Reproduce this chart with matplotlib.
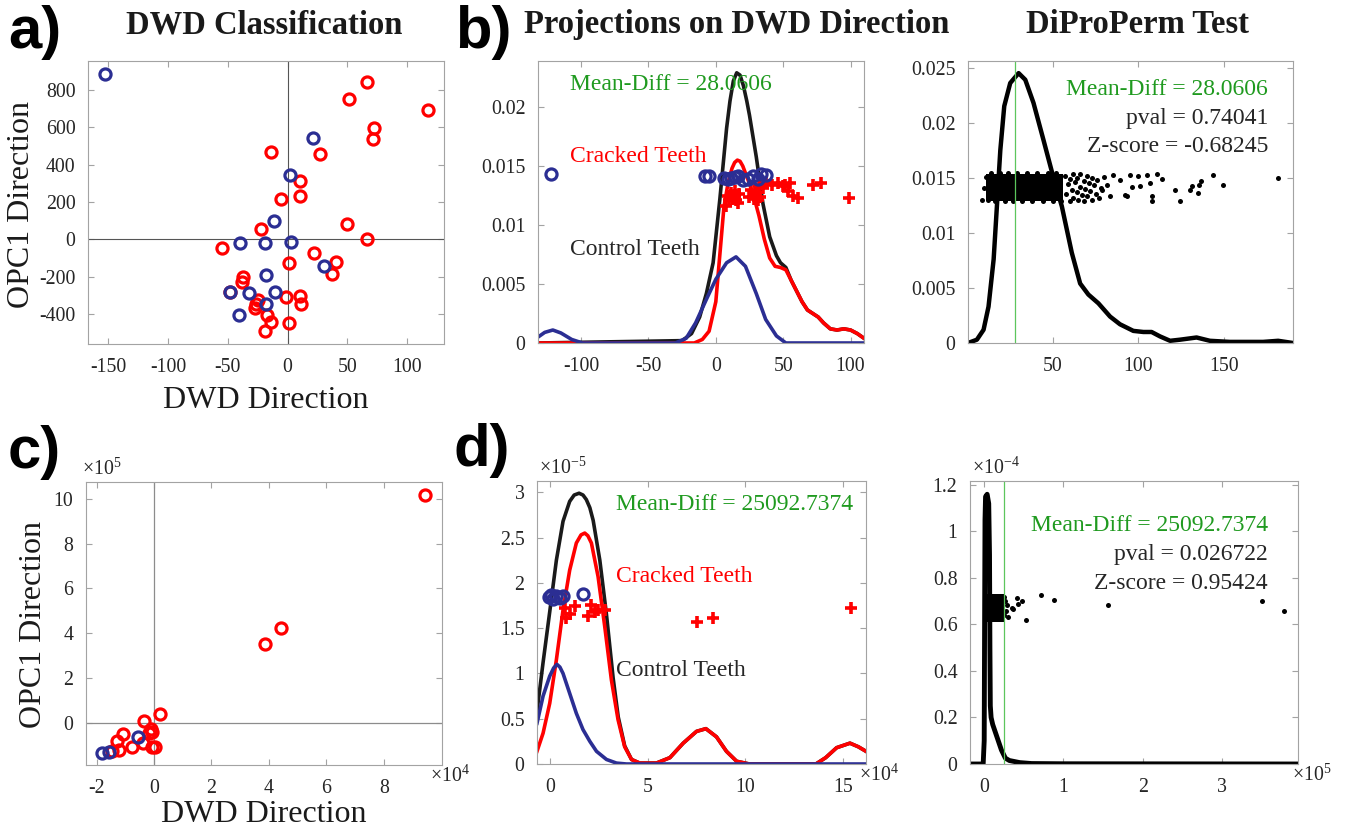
import matplotlib
matplotlib.use("Agg")
import matplotlib.pyplot as plt
from matplotlib.ticker import FuncFormatter

plt.rcParams['font.family'] = ['Liberation Serif', 'DejaVu Serif']
plt.rcParams['mathtext.fontset'] = 'custom'
plt.rcParams['mathtext.rm'] = 'Liberation Serif'
plt.rcParams['mathtext.default'] = 'regular'
plt.rcParams['axes.unicode_minus'] = False

# colours
RED = '#ff0000'
BLUE = '#2b2e93'
GREEN = '#1f9a1f'
TXT = '#262626'

# ---- a) DWD classification (raw scale)
a_ctrl_x = [-152.5, 21.4, 2.2, -11.2, -39.4, -18.5, 3.3, 30.9, -17.6, -10.4, -48.3, -32.1, -18.2, -40.7]
a_ctrl_y = [886, 541, 346, 97, -19, -21, -17, -141, -194, -282, -285, -291, -345, -405]
a_crack_x = [66.8, 51.8, 117.8, 72.1, 71.6, -13.4, 27.3, 10.3, 10.3, -5.6, -22.6, 49.8, 66.8, -55,
             22.5, 1.3, 40.4, 37.3, -37.1, -37.7, -48.3, -1.5, 10.3, 11.4, -24.6, -26.5, -27.4,
             -16.8, -14, 1.3, -18.5]
a_crack_y = [843, 754, 693, 598, 535, 466, 457, 315, 230, 215, 54, 83, 1, -49,
             -73, -128, -123, -187, -201, -228, -282, -309, -305, -346, -327, -348, -371,
             -405, -445, -448, -493]

# ---- b) projections on DWD direction
b_red_x = [-132, -16, -10, -5, 0, 3, 6, 9, 12, 14, 16, 18, 20, 24, 28, 32, 36, 40, 44, 48, 52, 56,
           60, 64, 68, 72, 76, 80, 85, 90, 95, 100, 105, 110]
b_red_y = [0, 0, 0.0003, 0.001, 0.0035, 0.0075, 0.0115, 0.0135, 0.0148, 0.0153, 0.0155, 0.0154,
           0.0150, 0.0138, 0.0125, 0.0108, 0.0088, 0.0072, 0.0065, 0.0064, 0.0062, 0.0053, 0.0044,
           0.0035, 0.0028, 0.0025, 0.0022, 0.0017, 0.0012, 0.0011, 0.0012, 0.0011, 0.0008, 0.0004]
b_blk_x = [-132, -25, -18, -12, -7, -2, 3, 8, 10.5, 13, 15.5, 18, 20.5, 23, 25, 30, 35, 40, 45, 48,
           52, 56, 60, 64, 68, 72, 76, 80, 85, 90, 95, 100, 105, 110]
b_blk_y = [0, 0.0002, 0.0008, 0.0022, 0.0042, 0.0068, 0.0122, 0.0182, 0.0205, 0.0222, 0.0229,
           0.0227, 0.0218, 0.0205, 0.0193, 0.0158, 0.0118, 0.0090, 0.0074, 0.0068, 0.0064, 0.0053,
           0.0044, 0.0035, 0.0028, 0.0025, 0.0022, 0.0017, 0.0012, 0.0011, 0.0012, 0.0011,
           0.0008, 0.0004]
b_blue_x = [-132, -127, -121, -115, -107, -99, -30, -22, -15, -7, 0, 8, 15, 22, 30, 37, 45, 52, 110]
b_blue_y = [0.0005, 0.0009, 0.0011, 0.00085, 0.0003, 0, 0, 0.0004, 0.0017, 0.0037, 0.0054,
            0.0068, 0.0073, 0.0065, 0.0042, 0.002, 0.0006, 0, 0]
b_ctrl_x = [-122, -8.4, -4.7, 6.4, 9, 11.4, 14, 16.3, 20, 23.8, 27.5, 31, 33.7, 37.4]
b_ctrl_y = [0.01435, 0.01412, 0.01418, 0.01398, 0.0139, 0.01398, 0.0141, 0.01412, 0.01384,
            0.0139, 0.01412, 0.0139, 0.01435, 0.01427]
b_crack_x = [7.7, 9.0, 10.1, 11.4, 12.0, 13.9, 14.5, 15.0, 16.3, 17.0, 25.0, 26.2, 28.0, 29.0,
             30.0, 31.2, 32.4, 33.0, 35.0, 37.4, 42.0, 46.0, 50.0, 51.0, 53.5, 54.7, 57.2, 60.9,
             72.0, 78.2, 98.8]
b_crack_y = [0.01158, 0.0125, 0.01215, 0.01271, 0.0122, 0.01243, 0.0129, 0.0121, 0.01186, 0.0126,
             0.0124, 0.0130, 0.0122, 0.0128, 0.01271, 0.01215, 0.01328, 0.0124, 0.0131, 0.01356,
             0.0134, 0.01356, 0.0133, 0.01342, 0.01285, 0.01356, 0.01243, 0.01229, 0.01342,
             0.01356, 0.01229]
mean_diff_b = 28.0606
pval_b = 0.74041
zscore_b = -0.68245

# ---- e) DiProPerm (raw scale)
e_curve_x = [0.4, 5.6, 9.5, 12.4, 15.4, 17.3, 19.3, 21.6, 25.1, 30, 33.9, 38.7, 44.6, 50.4, 55.3,
             61.1, 66, 70.8, 76.7, 83.5, 89.3, 97.1, 103, 107.8, 112.7, 118.6, 124.4, 134.1, 141.9,
             153.6, 173, 181.8, 190.5]
e_curve_y = [0, 0.0003, 0.0012, 0.0033, 0.0076, 0.0124, 0.0175, 0.0215, 0.0236, 0.0245, 0.0239,
             0.0218, 0.0184, 0.0150, 0.0124, 0.0082, 0.0054, 0.0044, 0.0036, 0.0024, 0.0017,
             0.0011, 0.001, 0.001, 0.0006, 0.0002, 0.0003, 0.0005, 0.0002, 0.0001, 0.0001,
             0.0002, 0.0]
# dense block of permutation mean-diffs
e_band_x = [11, 56]
e_band_lo = 0.0129
e_band_hi = 0.0153
e_pts_x = [8.5, 9.5, 10.7, 12, 57, 58, 59, 60, 60, 61, 62, 62, 63, 64, 64, 65, 66, 66, 67, 68, 68,
           69, 70, 70, 71, 72, 73, 73, 74, 75, 76, 77, 78, 78.6, 80, 81.5, 83.5, 85.4, 89.3, 92.2,
           93.2, 95.1, 96.1, 100, 100.9, 104.9, 106.8, 107.8, 107.8, 110.7, 113.6, 121.4, 124.3,
           130.2, 131.7, 134.9, 135.8, 136.7, 143.7, 149.6, 181.6,
           14, 19, 24, 29, 35, 41, 47, 52, 16, 22, 27, 32, 38, 44, 50, 55]
e_pts_y = [0.0130, 0.0141, 0.0151, 0.0130, 0.0152, 0.0135, 0.0144, 0.0129, 0.0149, 0.0139, 0.0153,
           0.0132, 0.0146, 0.0137, 0.0150, 0.0130, 0.0142, 0.0153, 0.0134, 0.0147, 0.0129, 0.0140,
           0.0152, 0.0133, 0.0145, 0.0138, 0.0150, 0.0130, 0.0143, 0.0135, 0.0148, 0.0132, 0.0141,
           0.0139, 0.0151, 0.0143, 0.0133, 0.01527, 0.01481, 0.01345, 0.0133, 0.01527, 0.0142,
           0.01518, 0.01427, 0.01527, 0.01451, 0.01285, 0.01330, 0.01536, 0.01493, 0.0139,
           0.01285, 0.0139, 0.01427, 0.01366, 0.01436, 0.01475, 0.01527, 0.01436, 0.01496,
           0.0154, 0.0154, 0.0154, 0.0154, 0.0154, 0.0154, 0.0154, 0.0154,
           0.01285, 0.01285, 0.01285, 0.01285, 0.01285, 0.01285, 0.01285, 0.01285]

# ---- c) DWD classification (normalised data)
c_crack_x = [94500, 38500, 44300, 2100, -3500, -800, -700, 300, -1600, -10700, -12800, -12100,
             -7800, -14800, -1000, -4000]
c_crack_y = [1016000, 351000, 424000, 39000, 7000, -40000, -107000, -107000, -48000, -51000,
             -82000, -122000, -110000, -125000, -30000, -90000]
c_ctrl_x = [-18200, -15600, -5700]
c_ctrl_y = [-134000, -129000, -65000]

# ---- d) projections
d_blk_x = [-0.65e4, -0.34e4, 0, 0.34e4, 0.68e4, 1.02e4, 1.25e4, 1.5e4, 1.7e4, 1.87e4, 2.05e4,
           2.22e4, 2.56e4, 2.9e4, 3.24e4, 3.5e4, 3.83e4, 4.18e4, 4.6e4, 5.45e4, 6.14e4, 6.82e4,
           7.5e4, 7.98e4, 8.52e4, 9.03e4, 9.55e4, 10.2e4, 13.6e4, 14.1e4, 14.66e4, 15.34e4,
           15.77e4, 16.16e4]
d_blk_y = [0.58e-5, 1.12e-5, 1.68e-5, 2.25e-5, 2.68e-5, 2.90e-5, 2.97e-5, 2.99e-5, 2.97e-5,
           2.92e-5, 2.83e-5, 2.69e-5, 2.25e-5, 1.65e-5, 0.95e-5, 0.52e-5, 0.2e-5, 0.05e-5,
           0.01e-5, 0.01e-5, 0.07e-5, 0.23e-5, 0.36e-5, 0.39e-5, 0.3e-5, 0.14e-5, 0.03e-5, 0, 0,
           0.07e-5, 0.18e-5, 0.23e-5, 0.19e-5, 0.14e-5]
d_red_x = [-0.65e4, -0.34e4, 0, 0.34e4, 0.68e4, 1.02e4, 1.36e4, 1.6e4, 1.79e4, 1.95e4, 2.13e4,
           2.47e4, 2.81e4, 3.15e4, 3.49e4, 3.83e4, 4.18e4, 4.6e4, 5.45e4, 6.14e4, 6.82e4, 7.5e4,
           7.98e4, 8.52e4, 9.03e4, 9.55e4, 10.2e4, 13.6e4, 14.1e4, 14.66e4, 15.34e4, 15.77e4,
           16.16e4]
d_red_y = [0.14e-5, 0.34e-5, 0.67e-5, 1.15e-5, 1.70e-5, 2.14e-5, 2.44e-5, 2.53e-5, 2.55e-5,
           2.52e-5, 2.44e-5, 2.07e-5, 1.52e-5, 0.93e-5, 0.49e-5, 0.19e-5, 0.05e-5, 0.01e-5,
           0.01e-5, 0.07e-5, 0.23e-5, 0.36e-5, 0.39e-5, 0.3e-5, 0.14e-5, 0.03e-5, 0, 0, 0.07e-5,
           0.18e-5, 0.23e-5, 0.19e-5, 0.14e-5]
d_blue_x = [-0.65e4, -0.34e4, 0, 0.2e4, 0.37e4, 0.52e4, 0.68e4, 1.02e4, 1.36e4, 1.7e4, 2.05e4,
            2.39e4, 2.9e4, 3.41e4, 3.92e4, 16.16e4]
d_blue_y = [0.45e-5, 0.75e-5, 0.97e-5, 1.06e-5, 1.1e-5, 1.07e-5, 1.0e-5, 0.78e-5, 0.56e-5,
            0.38e-5, 0.25e-5, 0.14e-5, 0.05e-5, 0.01e-5, 0, 0]
d_ctrl_x = [-0.05e4, 0.09e4, 0.15e4, 0.34e4, 0.5e4, 0.68e4, 1.7e4]
d_ctrl_y = [1.84e-5, 1.87e-5, 1.82e-5, 1.86e-5, 1.83e-5, 1.86e-5, 1.88e-5]
d_crack_x = [0.77e4, 0.85e4, 1.02e4, 1.28e4, 1.96e4, 2.13e4, 2.3e4, 2.47e4, 2.81e4, 7.53e4,
             8.35e4, 15.39e4]
d_crack_y = [1.72e-5, 1.61e-5, 1.66e-5, 1.74e-5, 1.63e-5, 1.76e-5, 1.68e-5, 1.70e-5, 1.70e-5,
             1.57e-5, 1.61e-5, 1.72e-5]
mean_diff_d = 25092.7374
pval_d = 0.026722
zscore_d = 0.95424

# ---- f) DiProPerm (normalised data)
f_curve_x = [-0.176e5, -0.01e5, 0.003e5, 0.008e5, 0.013e5, 0.02e5, 0.04e5, 0.06e5, 0.07e5,
             0.075e5, 0.08e5, 0.09e5, 0.11e5, 0.14e5, 0.18e5, 0.22e5, 0.27e5, 0.32e5, 0.45e5,
             0.6e5, 1.0e5, 3.957e5]
f_curve_y = [0, 0, 0.1e-4, 0.6e-4, 1.05e-4, 1.15e-4, 1.16e-4, 1.12e-4, 0.9e-4, 0.5e-4,
             0.25e-4, 0.2e-4, 0.17e-4, 0.14e-4, 0.1e-4, 0.06e-4, 0.025e-4, 0.015e-4, 0.006e-4,
             0.002e-4, 0.001e-4, 0]
f_band_x = [0.02e5, 0.25e5]
f_band_lo = 0.61e-4
f_band_hi = 0.73e-4
f_pts_x = [0.26e5, 0.28e5, 0.294e5, 0.306e5, 0.348e5, 0.36e5, 0.41e5, 0.424e5, 0.474e5, 0.525e5,
           0.713e5, 0.885e5, 1.567e5, 3.508e5, 3.777e5, 0.255e5, 0.25e5]
f_pts_y = [0.70e-4, 0.66e-4, 0.684e-4, 0.634e-4, 0.67e-4, 0.666e-4, 0.713e-4, 0.689e-4, 0.699e-4,
           0.618e-4, 0.728e-4, 0.705e-4, 0.684e-4, 0.699e-4, 0.66e-4, 0.64e-4, 0.72e-4]

W, H = 1353, 831
fig = plt.figure(figsize=(W / 100, H / 100), dpi=100)


def add_ax(l, t, r, b):
    return fig.add_axes([l / W, 1 - b / H, (r - l) / W, (b - t) / H])


def style(ax):
    for s in ax.spines.values():
        s.set_color('#a3a3a3')
        s.set_linewidth(0.8)
    ax.tick_params(direction='in', top=True, right=True, length=4, width=0.8,
                   color='#a3a3a3', labelsize=14.3, labelcolor=TXT)
    ax.tick_params(axis='y', pad=9)
    ax.tick_params(axis='x', pad=10)


def scaled(p):
    return FuncFormatter(lambda v, pos: '%g' % round(v / 10 ** p, 6))


def offset_label(ax, txt, x, y):
    ax.text(x, y, txt, transform=ax.transAxes, fontsize=14.3, color=TXT,
            ha='left', va='center')


circ = dict(ls='none', marker='o', mfc='none', ms=8, mew=2.3)
plus = dict(ls='none', marker='+', ms=9, mew=2.6, color=RED)
ANN = 17

# a)
ax = add_ax(88, 61, 444, 344)
ax.axhline(0, color='#555555', lw=0.8)
ax.axvline(0, color='#555555', lw=0.8)
ax.plot(a_crack_x, a_crack_y, mec=RED, **circ)
ax.plot(a_ctrl_x, a_ctrl_y, mec=BLUE, **circ)
ax.set_xlim(-167, 131)
ax.set_ylim(-562, 956)
ax.set_xticks([-150, -100, -50, 0, 50, 100])
ax.set_yticks([-400, -200, 0, 200, 400, 600, 800])
style(ax)

# b)
ax = add_ax(538, 61, 864, 343)
ax.plot(b_blk_x, b_blk_y, color='#1a1a1a', lw=2.6)
ax.plot(b_red_x, b_red_y, color=RED, lw=2.6)
ax.plot(b_blue_x, b_blue_y, color=BLUE, lw=2.6)
ax.plot(b_crack_x, b_crack_y, **plus)
ax.plot(b_ctrl_x, b_ctrl_y, mec=BLUE, **circ)
ax.set_xlim(-132, 110)
ax.set_ylim(0, 0.0239)
ax.set_xticks([-100, -50, 0, 50, 100])
ax.set_yticks([0, 0.005, 0.01, 0.015, 0.02])
ax.yaxis.set_major_formatter(FuncFormatter(lambda v, p: '%g' % round(v, 6)))
style(ax)
ax.text(-108, 0.0219, f'Mean-Diff = {mean_diff_b:.4f}', color=GREEN, fontsize=ANN, va='center')
ax.text(-108, 0.0158, 'Cracked Teeth', color=RED, fontsize=ANN, va='center')
ax.text(-108, 0.0079, 'Control Teeth', color=TXT, fontsize=ANN, va='center')

# e)
ax = add_ax(968, 61, 1293, 343)
ax.fill_between(e_band_x, [e_band_lo] * 2, [e_band_hi] * 2, color='k', lw=0)
ax.plot(e_pts_x, e_pts_y, 'o', color='k', ms=3.6, mew=0)
ax.plot(e_curve_x, e_curve_y, color='k', lw=3.2)
ax.axvline(mean_diff_b, color='#5cc65c', lw=0.9)
ax.set_xlim(0.4, 190.5)
ax.set_ylim(0, 0.0256)
ax.set_xticks([50, 100, 150])
ax.set_yticks([0, 0.005, 0.01, 0.015, 0.02, 0.025])
ax.yaxis.set_major_formatter(FuncFormatter(lambda v, p: '%g' % round(v, 6)))
style(ax)
ax.text(176, 0.0230, f'Mean-Diff = {mean_diff_b:.4f}', color=GREEN, fontsize=ANN, ha='right', va='center')
ax.text(176, 0.0204, f'pval = {pval_b:g}', color=TXT, fontsize=ANN, ha='right', va='center')
ax.text(176, 0.0178, f'Z-score = {zscore_b:g}', color=TXT, fontsize=ANN, ha='right', va='center')

# c)
ax = add_ax(86, 482, 442, 765)
ax.axhline(0, color='#8c8c8c', lw=0.9)
ax.axvline(0, color='#8c8c8c', lw=0.9)
ax.plot(c_crack_x, c_crack_y, mec=RED, **circ)
ax.plot(c_ctrl_x, c_ctrl_y, mec=BLUE, **circ)
ax.set_xlim(-2.37e4, 10.03e4)
ax.set_ylim(-1.89e5, 10.76e5)
ax.set_xticks([-2e4, 0, 2e4, 4e4, 6e4, 8e4])
ax.set_yticks([0, 2e5, 4e5, 6e5, 8e5, 10e5])
ax.xaxis.set_major_formatter(scaled(4))
ax.yaxis.set_major_formatter(scaled(5))
style(ax)
offset_label(ax, r'$\times10^{5}$', -0.01, 1.045)
offset_label(ax, r'$\times10^{4}$', 0.965, -0.04)

# d)
ax = add_ax(537, 481, 866, 764)
ax.plot(d_blk_x, d_blk_y, color='#1a1a1a', lw=2.6)
ax.plot(d_red_x, d_red_y, color=RED, lw=2.6)
ax.plot(d_blue_x, d_blue_y, color=BLUE, lw=2.6)
ax.plot(d_crack_x, d_crack_y, **plus)
ax.plot(d_ctrl_x, d_ctrl_y, mec=BLUE, **circ)
ax.set_xlim(-0.65e4, 16.16e4)
ax.set_ylim(0, 3.125e-5)
ax.set_xticks([0, 5e4, 10e4, 15e4])
ax.set_yticks([0, 0.5e-5, 1e-5, 1.5e-5, 2e-5, 2.5e-5, 3e-5])
ax.xaxis.set_major_formatter(scaled(4))
ax.yaxis.set_major_formatter(scaled(-5))
style(ax)
offset_label(ax, r'$\times10^{-5}$', 0.005, 1.045)
offset_label(ax, r'$\times10^{4}$', 0.98, -0.04)
ax.text(3.41e4, 2.87e-5, f'Mean-Diff = {mean_diff_d:.4f}', color=GREEN, fontsize=ANN, va='center')
ax.text(3.41e4, 2.07e-5, 'Cracked Teeth', color=RED, fontsize=ANN, va='center')
ax.text(3.41e4, 1.03e-5, 'Control Teeth', color=TXT, fontsize=ANN, va='center')

# f)
ax = add_ax(970, 481, 1298, 764)
ax.fill_between(f_band_x, [f_band_lo] * 2, [f_band_hi] * 2, color='k', lw=0)
ax.plot(f_pts_x, f_pts_y, 'o', color='k', ms=3.6, mew=0)
ax.plot(f_curve_x, f_curve_y, color='k', lw=3.5)
ax.axvline(mean_diff_d, color='#5cc65c', lw=0.9)
ax.set_xlim(-0.176e5, 3.957e5)
ax.set_ylim(0, 1.217e-4)
ax.set_xticks([0, 1e5, 2e5, 3e5])
ax.set_yticks([0, 0.2e-4, 0.4e-4, 0.6e-4, 0.8e-4, 1e-4, 1.2e-4])
ax.xaxis.set_major_formatter(scaled(5))
ax.yaxis.set_major_formatter(scaled(-4))
style(ax)
offset_label(ax, r'$\times10^{-4}$', 0.005, 1.045)
offset_label(ax, r'$\times10^{5}$', 0.982, -0.04)
ax.text(3.58e5, 1.024e-4, f'Mean-Diff = {mean_diff_d:.4f}', color=GREEN, fontsize=ANN, ha='right', va='center')
ax.text(3.58e5, 0.90e-4, f'pval = {pval_d:g}', color=TXT, fontsize=ANN, ha='right', va='center')
ax.text(3.58e5, 0.778e-4, f'Z-score = {zscore_d:g}', color=TXT, fontsize=ANN, ha='right', va='center')

# titles, labels, panel letters
tkw = dict(fontsize=23.5, fontweight='bold', color='#1a1a1a', ha='center', va='baseline')
fig.text(264 / W, 1 - 33 / H, 'DWD Classification', **tkw)
fig.text(737 / W, 1 - 33 / H, 'Projections on DWD Direction', **tkw)
fig.text(1137 / W, 1 - 33 / H, 'DiProPerm Test', **tkw)

lkw = dict(fontsize=23, color='#1a1a1a')
fig.text(266 / W, 1 - 408 / H, 'DWD Direction', ha='center', va='baseline', **lkw)
fig.text(264 / W, 1 - 822 / H, 'DWD Direction', ha='center', va='baseline', **lkw)
fig.text(22 / W, 1 - 204 / H, 'OPC1 Direction', rotation=90, ha='center', va='center', **lkw)
fig.text(34 / W, 1 - 625 / H, 'OPC1 Direction', rotation=90, ha='center', va='center', **lkw)

pkw = dict(fontsize=43, fontweight='bold', family='Liberation Sans', ha='left', va='top')
fig.text(8 / W, 1 - 5 / H, 'a)', **pkw)
fig.text(455 / W, 1 - 5 / H, 'b)', **pkw)
fig.text(8 / W, 1 - 425 / H, 'c)', **pkw)
fig.text(453 / W, 1 - 423 / H, 'd)', **pkw)

fig.savefig('out.png', dpi=100)
